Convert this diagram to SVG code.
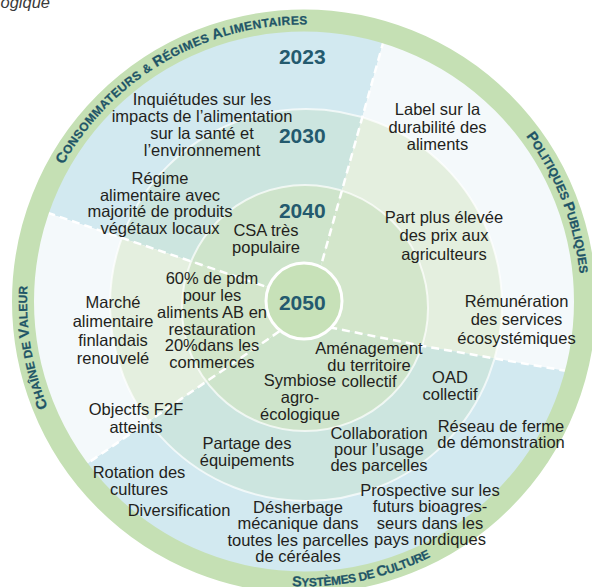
<svg xmlns="http://www.w3.org/2000/svg" width="592" height="587" viewBox="0 0 592 587">
<defs>
<style>
.t{font-family:"Liberation Sans",Arial,sans-serif;font-size:16.5px;fill:#231f20;text-anchor:middle}
.yr{font-family:"Liberation Sans",Arial,sans-serif;font-size:21px;font-weight:bold;fill:#245a6e;text-anchor:middle}
.band{font-family:"Liberation Sans",Arial,sans-serif;font-weight:bold;fill:#1f5567;font-size:12px;stroke:#1f5567;stroke-width:0.25px}
.bg{font-size:14.5px}
.div{fill:none;stroke:#fff;stroke-width:2.5;stroke-dasharray:8 5}
.sep{fill:none;stroke:#fff;stroke-opacity:.7;stroke-width:2}
.r23a{fill:#d2e9f0}.r30a{fill:#cce5df}.r40a{fill:#cee4cb}
.r23b{fill:#f4f9fb}.r30b{fill:#e4efdf}.r40b{fill:#d3e6cb}
</style>
<clipPath id="cA"><path d="M304,299.5 L-50,180 L-50,-50 L409,-50 L311,301.5 Z"/></clipPath>
<clipPath id="cB"><path d="M311,301.5 L409,-50 L650,-50 L650,385.4 L567,371 L423,346 L333,328 L304,322 Z"/></clipPath>
<clipPath id="cC"><path d="M304,322 L333,328 L423,346 L567,371 L650,385.4 L650,650 L-50,650 L-50,558 L304,314.4 Z"/></clipPath>
<clipPath id="cD"><path d="M304,314.4 L-50,558 L-50,180 L304,299.5 Z"/></clipPath>
<path id="pTop" d="M63.2,164.7 A277,277 0 0 1 352.1,28.7"/>
<path id="pRight" d="M526.1,136 A277,277 0 0 1 579.9,325.6"/>
<path id="pLeft" d="M47.9,407.1 A277,277 0 0 1 43.7,206.8"/>
<path id="pBottom" d="M292,586.3 A285,285 0 0 0 487.2,519.8"/>
</defs>
<rect width="592" height="587" fill="#fff"/>
<text x="0.5" y="7.5" style="font-family:'Liberation Sans',Arial,sans-serif;font-size:16.5px;font-style:italic;fill:#3a3a3a">ogique</text>

<g id="sector-consommateurs" clip-path="url(#cA)">
<circle cx="304" cy="301.5" r="271" class="r23a"/><circle cx="306" cy="305" r="196" class="r30a"/><circle cx="305" cy="308" r="123" class="r40a"/>
</g>
<g id="sector-politiques" clip-path="url(#cB)">
<circle cx="304" cy="301.5" r="271" class="r23b"/><circle cx="306" cy="305" r="196" class="r30b"/><circle cx="305" cy="308" r="123" class="r40b"/>
</g>
<g id="sector-systemes" clip-path="url(#cC)">
<circle cx="304" cy="301.5" r="271" class="r23a"/><circle cx="306" cy="305" r="196" class="r30a"/><circle cx="305" cy="308" r="123" class="r40a"/>
</g>
<g id="sector-chaine" clip-path="url(#cD)">
<circle cx="304" cy="301.5" r="271" class="r23b"/><circle cx="306" cy="305" r="196" class="r30b"/><circle cx="305" cy="308" r="123" class="r40b"/>
</g>
<g id="ring-separators">
<circle cx="306" cy="305" r="196" class="sep"/>
<circle cx="305" cy="308" r="123" class="sep"/>
</g>
<g id="connectors">
<path class="div" d="M387.2,28 L318.1,276"/>
<path class="div" d="M35,208.5 L290,294.8"/>
<path class="div" d="M80,468.5 L290,324"/>
<path class="div" d="M580,373.3 L567,371 L423,346 L333,328 L318,325"/>
</g>
<g id="y2050">
<circle cx="304" cy="301" r="38" fill="#c7e1b8" stroke="#fff" stroke-width="3"/>
<text class="yr" x="302.3" y="310">2050</text>
</g>
<g id="band">
<circle cx="304" cy="301.5" r="281" fill="none" stroke="#c5e0b4" stroke-width="22"/>
<text class="band" style="letter-spacing:0.4px"><textPath href="#pTop"><tspan class="bg">C</tspan>ONSOMMATEURS &amp; <tspan class="bg">R</tspan>ÉGIMES <tspan class="bg">A</tspan>LIMENTAIRES</textPath></text>
<text class="band" style="letter-spacing:0px"><textPath href="#pRight"><tspan class="bg">P</tspan>OLITIQUES <tspan class="bg">P</tspan>UBLIQUES</textPath></text>
<text class="band" style="letter-spacing:0.1px"><textPath href="#pLeft"><tspan class="bg">C</tspan>HAÎNE DE <tspan class="bg">V</tspan>ALEUR</textPath></text>
<text class="band" style="letter-spacing:-0.3px"><textPath href="#pBottom"><tspan class="bg">S</tspan>YSTÈMES DE <tspan class="bg">C</tspan>ULTURE</textPath></text>
</g>
<g id="years">
<text class="yr" x="302.3" y="64.3">2023</text>
<text class="yr" x="302.3" y="143.3">2030</text>
<text class="yr" x="302.3" y="218.3">2040</text>
</g>
<g id="n-inquietudes"><text class="t"><tspan x="202" y="105">Inquiétudes sur les</tspan><tspan x="202" y="122">impacts de l’alimentation</tspan><tspan x="202" y="139">sur la santé et</tspan><tspan x="202" y="156">l’environnement</tspan></text></g>
<g id="n-regime"><text class="t"><tspan x="160" y="184">Régime</tspan><tspan x="160" y="200.5">alimentaire avec</tspan><tspan x="160" y="217">majorité de produits</tspan><tspan x="160" y="233.5">végétaux locaux</tspan></text></g>
<g id="n-csa"><text class="t"><tspan x="266" y="236">CSA très</tspan><tspan x="266" y="252.5">populaire</tspan></text></g>
<g id="n-pdm"><text class="t"><tspan x="212" y="284">60% de pdm</tspan><tspan x="212" y="301">pour les</tspan><tspan x="212" y="318">aliments AB en</tspan><tspan x="212" y="334.5">restauration</tspan><tspan x="212" y="351">20%dans les</tspan><tspan x="212" y="368">commerces</tspan></text></g>
<g id="n-marche"><text class="t"><tspan x="113" y="307.5">Marché</tspan><tspan x="113" y="326.5">alimentaire</tspan><tspan x="113" y="345.5">finlandais</tspan><tspan x="113" y="364">renouvelé</tspan></text></g>
<g id="n-f2f"><text class="t"><tspan x="136" y="415">Objectfs F2F</tspan><tspan x="136" y="433">atteints</tspan></text></g>
<g id="n-rotation"><text class="t"><tspan x="139" y="478">Rotation des</tspan><tspan x="139" y="494.5">cultures</tspan></text></g>
<g id="n-diversification"><text class="t" x="179" y="516">Diversification</text></g>
<g id="n-partage"><text class="t"><tspan x="247" y="449">Partage des</tspan><tspan x="247" y="466">équipements</tspan></text></g>
<g id="n-desherbage"><text class="t"><tspan x="298" y="512.5">Désherbage</tspan><tspan x="298" y="529">mécanique dans</tspan><tspan x="298" y="545.5">toutes les parcelles</tspan><tspan x="298" y="562">de céréales</tspan></text></g>
<g id="n-collaboration"><text class="t"><tspan x="379" y="438.5">Collaboration</tspan><tspan x="379" y="455">pour l’usage</tspan><tspan x="379" y="471">des parcelles</tspan></text></g>
<g id="n-prospective"><text class="t"><tspan x="430" y="496">Prospective sur les</tspan><tspan x="430" y="512">futurs bioagres-</tspan><tspan x="430" y="528.5">seurs dans les</tspan><tspan x="430" y="545">pays nordiques</tspan></text></g>
<g id="n-reseau"><text class="t"><tspan x="501" y="431.5">Réseau de ferme</tspan><tspan x="501" y="448">de démonstration</tspan></text></g>
<g id="n-oad"><text class="t"><tspan x="450" y="383">OAD</tspan><tspan x="450" y="399.5">collectif</tspan></text></g>
<g id="n-amenagement"><text class="t"><tspan x="369" y="354">Aménagement</tspan><tspan x="369" y="370.5">du territoire</tspan><tspan x="369" y="387">collectif</tspan></text></g>
<g id="n-symbiose"><text class="t"><tspan x="300" y="386">Symbiose</tspan><tspan x="300" y="403">agro-</tspan><tspan x="300" y="419.5">écologique</tspan></text></g>
<g id="n-label"><text class="t"><tspan x="437.5" y="115">Label sur la</tspan><tspan x="437.5" y="132.5">durabilité des</tspan><tspan x="437.5" y="149.5">aliments</tspan></text></g>
<g id="n-prix"><text class="t"><tspan x="444" y="222.5">Part plus élevée</tspan><tspan x="444" y="241">des prix aux</tspan><tspan x="444" y="260">agriculteurs</tspan></text></g>
<g id="n-remuneration"><text class="t"><tspan x="516.5" y="306.5">Rémunération</tspan><tspan x="516.5" y="325">des services</tspan><tspan x="516.5" y="344">écosystémiques</tspan></text></g>
</svg>
